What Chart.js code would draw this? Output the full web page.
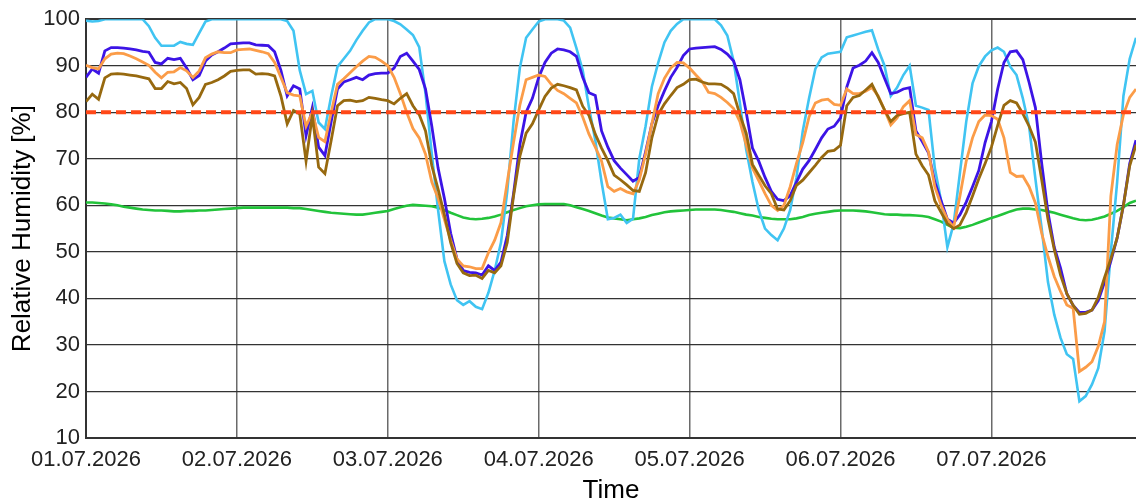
<!DOCTYPE html>
<html>
<head>
<meta charset="utf-8">
<title>Relative Humidity</title>
<script src="https://cdn.jsdelivr.net/npm/chart.js@4.4.1/dist/chart.umd.min.js"></script>
<style>
  body { margin: 0; background: #fff; }
  #wrap { width: 1136px; height: 503px; }
</style>
</head>
<body>
<div id="wrap"><canvas id="rhChart" width="1136" height="503"></canvas></div>
<script>
// hourly values, 01.07.2026 00:00 .. 07.07.2026 23:00 (one row per day)
const dayLabels = ["01.07.2026", "02.07.2026", "03.07.2026", "04.07.2026", "05.07.2026", "06.07.2026", "07.07.2026"];
const yTicks = [10, 20, 30, 40, 50, 60, 70, 80, 90, 100];
const limitRH = 80;

const cyanRH = [
  99.7, 99.5, 99.6, 100, 100, 100, 100, 100, 100, 100, 98.5, 96, 94.3, 94.3, 94.3, 95.1, 94.7, 94.5, 97, 99.5, 100, 100, 100, 100,
  100, 100, 100, 100, 100, 100, 100, 100, 99.6, 97.5, 89, 83.9, 84.6, 77.8, 76.4, 83.5, 89.8, 91.5, 93.2, 95.5, 97.5, 99.3, 100, 100,
  100, 99.6, 98.9, 97.8, 96.6, 94, 84, 71, 59, 48, 43, 39.6, 38.6, 39.4, 38.2, 37.7, 41.2, 46, 52, 63, 78, 89.5, 96, 97.8,
  99.5, 100, 100, 100, 99.7, 98.2, 93.8, 89, 81, 74, 65, 57, 57.3, 58, 56.2, 57.1, 70, 77, 85.5, 90.6, 95, 97.5, 99, 100,
  100, 100, 100, 100, 100, 98.7, 96.5, 91, 82, 72, 65, 59, 55, 53.6, 52.5, 55, 59, 66, 76, 83, 89.3, 91.8, 92.6, 92.8,
  93, 96.1, 96.5, 96.9, 97.3, 97.6, 93.5, 90, 83.5, 85.3, 88, 90, 81.4, 81, 80.5, 68, 61, 51, 56, 67, 78, 86.2, 89.9, 92,
  93.3, 93.9, 93, 89.8, 88, 83, 77, 65.7, 55, 43.5, 36.5, 31.5, 28, 27, 17.9, 19, 21.5, 25, 33, 50, 65, 83.5, 91.5, 96
];

const blueRH = [
  87.5, 89.3, 88.4, 93.2, 93.9, 93.9, 93.8, 93.6, 93.4, 93.1, 92.9, 90.7, 90.4, 91.6, 91.3, 91.6, 89.5, 87, 87.9, 91, 92.3, 93, 93.8, 94.7,
  94.8, 94.9, 94.9, 94.5, 94.4, 94.3, 93, 89, 83.5, 85.7, 85, 75, 81, 72.5, 70.7, 78, 85, 86.5, 87, 87.5, 87, 88, 88.3, 88.4,
  88.4, 89.5, 92, 92.7, 91, 89.2, 85, 77, 68, 61.5, 54, 48.5, 46, 45.6, 45.5, 45, 47, 46, 47.8, 53.5, 62.5, 73, 80, 83,
  87.5, 90.7, 92.7, 93.6, 93.4, 93, 92, 87.5, 84.2, 83.6, 76, 72.5, 69.6, 68, 66.6, 65.2, 66, 71.5, 77.5, 81.4, 84.6, 87.5, 89.6, 92.2,
  93.6, 93.8, 93.9, 94, 94.1, 93.5, 92.5, 91, 87, 80, 72.3, 69.5, 66, 63, 61.3, 61, 62.1, 65, 67.8, 69.6, 72, 74.5, 76.4, 77,
  78.8, 85.4, 89.5, 90.1, 91, 92.8, 90.7, 87.3, 84, 84.3, 85, 85.3, 76, 73.7, 71.3, 65, 61, 57, 56.2, 58, 60.7, 64, 67.5, 73.5,
  78, 85, 90.7, 93, 93.2, 91.3, 86.4, 81, 69, 58.5, 51, 46.5, 41, 38.5, 37, 37, 37.5, 39.5, 43.5, 48, 53, 60, 69, 74
];

const orangeRH = [
  90.1, 89.6, 89.3, 91.5, 92.5, 92.7, 92.6, 92.1, 91.5, 90.8, 90.1, 88.6, 87.4, 88.6, 88.7, 89.6, 88.9, 87.5, 88.9, 91.7, 92.5, 93, 92.8, 92.8,
  93.4, 93.5, 93.6, 93.3, 93, 92.6, 90.7, 87.5, 84.2, 83.7, 83.5, 77, 80, 74.6, 73.7, 80, 86, 87.2, 88.5, 89.8, 91, 92, 91.8, 91,
  90, 87.5, 84, 80, 76.5, 74.5, 71, 65, 61.5, 57, 52.5, 48.5, 47, 46.8, 46.4, 46.4, 49.8, 52.5, 56.3, 65, 73.5, 81.5, 87, 87.5,
  88, 87.7, 86, 84.7, 84, 83, 82, 79, 75.3, 72.5, 69.5, 64, 63, 63.6, 62.9, 62.5, 65.5, 71, 77.5, 84, 87.3, 89.5, 90.7, 90.6,
  89.5, 88, 86.6, 84.3, 84, 83.2, 82.1, 80.8, 78, 73, 68, 65.3, 62.5, 60, 58.9, 60, 64, 69, 73.5, 79, 82, 82.6, 82.8, 81.7,
  81.5, 85, 84, 84, 84.5, 85.3, 83.5, 80.5, 77.3, 78.8, 81.2, 82.5, 75.2, 74.5, 71.5, 64, 60, 57, 55.3, 62, 69.5, 74.5, 78, 79.4,
  79.3, 78.5, 74.5, 67.1, 66.2, 66.3, 64, 60.5, 54, 49, 44.7, 41.5, 38.6, 37.9, 24.3, 25.2, 26.4, 29.7, 35, 62, 73, 79.5, 83.2, 85
];

const brownRH = [
  82.3, 83.9, 82.8, 87.4, 88.2, 88.3, 88.2, 88, 87.8, 87.5, 87.2, 85.1, 85.1, 86.6, 86.1, 86.4, 85.1, 81.6, 83.2, 86, 86.4, 87, 87.8, 88.8,
  89, 89.1, 89.1, 88.2, 88.3, 88.2, 87.8, 83.5, 77.5, 80.4, 79.6, 69.5, 79.3, 68.2, 66.8, 74, 81.4, 82.5, 82.6, 82.3, 82.5, 83.2, 83, 82.7,
  82.5, 81.8, 83, 84, 81.4, 79.5, 76, 68.5, 63.5, 58, 52, 47.5, 45.5, 44.9, 45, 44.3, 46, 45.5, 47, 52, 62, 70.5, 75.5, 77.5,
  80.5, 83.4, 85.2, 86, 85.7, 85.3, 84.8, 81.3, 79.3, 75.3, 72.3, 69.6, 66.5, 65.5, 64.4, 63.2, 63, 67, 74.5, 79.5, 81.8, 83.6, 85.3, 86,
  87, 87.1, 86.5, 86.1, 86.1, 86, 85.2, 84, 79.5, 75.5, 68.8, 66.5, 64.2, 62.5, 59.2, 59, 61, 64.3, 65.4, 67, 68.6, 70.3, 71.6, 71.8,
  72.9, 81.4, 83.2, 83.6, 84.8, 86, 83.3, 80.5, 78, 79.3, 79.7, 80, 71, 68.5, 66.5, 61, 58.5, 56.1, 55, 55.8, 58.5, 62, 65.7, 69,
  72.5, 77.2, 81.5, 82.5, 82, 79.7, 77, 73.6, 65.5, 57, 50.5, 45, 41, 38.5, 36.6, 36.8, 37.5, 40.2, 44.5, 48.5, 53, 60, 68.5, 73
];

const greenRH = [
  60.6, 60.6, 60.5, 60.4, 60.2, 60, 59.7, 59.5, 59.3, 59.1, 59, 58.9, 58.9, 58.8, 58.7, 58.7, 58.8, 58.8, 58.9, 58.9, 59, 59.1, 59.2, 59.3,
  59.4, 59.5, 59.5, 59.5, 59.5, 59.5, 59.5, 59.5, 59.5, 59.4, 59.4, 59.2, 59, 58.8, 58.6, 58.4, 58.3, 58.2, 58.1, 58, 58, 58.2, 58.4, 58.6,
  58.8, 59.2, 59.6, 59.9, 60.1, 60, 59.9, 59.8, 59.5, 59, 58.4, 57.9, 57.4, 57.1, 57, 57.1, 57.3, 57.6, 58, 58.5, 59, 59.4, 59.8, 60,
  60.2, 60.3, 60.3, 60.3, 60.3, 60, 59.6, 59.2, 58.8, 58.3, 57.8, 57.4, 57.2, 57, 56.8, 57, 57.2, 57.5, 57.9, 58.2, 58.5, 58.7, 58.8, 58.9,
  59, 59.1, 59.1, 59.1, 59.1, 59, 58.8, 58.6, 58.3, 58, 57.8, 57.5, 57.3, 57.1, 57, 57, 57, 57.2, 57.5, 57.9, 58.2, 58.4, 58.6, 58.8,
  58.9, 58.9, 58.9, 58.8, 58.7, 58.5, 58.3, 58.1, 58, 58, 57.9, 57.9, 57.8, 57.7, 57.5, 57, 56.5, 55.8, 55.2, 55.1, 55.4, 55.8, 56.3, 56.8,
  57.3, 57.7, 58.2, 58.7, 59.1, 59.3, 59.3, 59.1, 59, 58.7, 58.4, 58, 57.6, 57.2, 56.9, 56.8, 56.9, 57.2, 57.6, 58.2, 58.8, 59.6, 60.5, 61
];

const lastHour = cyanRH.length - 1;
const toPoints = arr => arr.map((v, h) => ({ x: h, y: v }));
const font = "'Liberation Sans', Arial, sans-serif";

function line(data, color, width, order) {
  return {
    data: toPoints(data),
    borderColor: color,
    borderWidth: width,
    pointRadius: 0,
    tension: 0,
    order: order
  };
}

const limitLine = {
  data: [{ x: 0, y: limitRH }, { x: lastHour, y: limitRH }],
  borderColor: "#ff4818",
  borderWidth: 4,
  borderDash: [10, 5],
  pointRadius: 0,
  order: 0
};

new Chart(document.getElementById("rhChart"), {
  type: "line",
  data: {
    datasets: [
      limitLine,
      line(brownRH, "#97690f", 2.8, 1),
      line(orangeRH, "#fb9c48", 2.8, 2),
      line(blueRH, "#3c14e6", 2.8, 3),
      line(cyanRH, "#40c4f2", 2.6, 4),
      line(greenRH, "#22c33a", 2.6, 5)
    ]
  },
  options: {
    responsive: false,
    animation: false,
    layout: { padding: { top: 18, right: 0, left: 0, bottom: 0 } },
    plugins: { legend: { display: false }, tooltip: { enabled: false } },
    scales: {
      x: {
        type: "linear",
        min: 0,
        max: lastHour,
        afterBuildTicks: axis => { axis.ticks = dayLabels.map((d, i) => ({ value: i * 24 })); },
        afterFit: axis => { axis.height = 65; },
        ticks: {
          autoSkip: false,
          maxRotation: 0,
          padding: 9,
          color: "#222",
          font: { family: font, size: 22 },
          callback: (v, i) => dayLabels[i]
        },
        grid: { color: "#6a6a6a", lineWidth: 1.5, drawTicks: false },
        border: { color: "#333", width: 2 },
        title: {
          display: true,
          text: "Time",
          color: "#000",
          font: { family: font, size: 26 },
          padding: { top: 0, bottom: -3 }
        }
      },
      y: {
        min: 10,
        max: 100,
        afterBuildTicks: axis => { axis.ticks = yTicks.map(v => ({ value: v })); },
        afterFit: axis => { axis.width = 86; },
        ticks: {
          padding: 6,
          color: "#222",
          font: { family: font, size: 22 }
        },
        grid: {
          color: "#333",
          lineWidth: ctx => (ctx.tick && ctx.tick.value === 100 ? 2 : 1.2),
          drawTicks: false
        },
        border: { color: "#333", width: 2 },
        title: {
          display: true,
          text: "Relative Humidity [%]",
          color: "#000",
          font: { family: font, size: 26 },
          padding: { top: 7, bottom: 0 }
        }
      }
    }
  }
});
</script>
</body>
</html>
